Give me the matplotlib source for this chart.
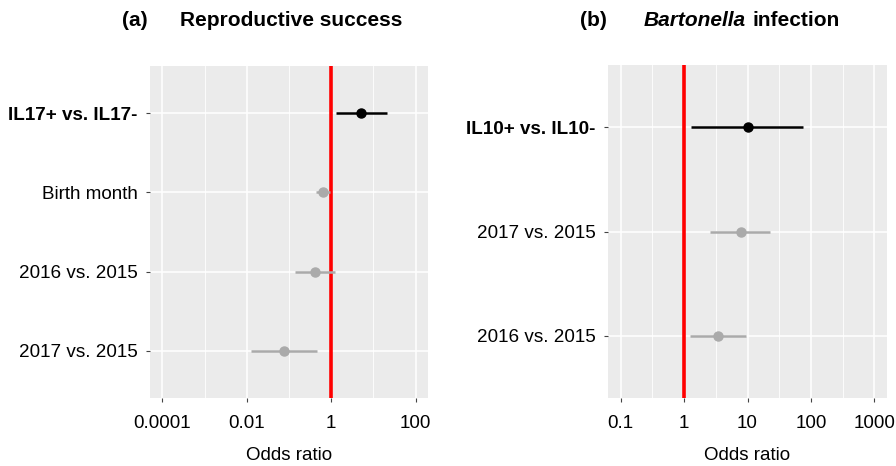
import matplotlib.pyplot as plt
from matplotlib.ticker import FixedLocator, NullFormatter

plt.rcParams['font.family'] = ['Liberation Sans', 'DejaVu Sans']

# -----------------------------
# Data
# -----------------------------
# (a) Reproductive success, top to bottom
a_labels = ["IL17+ vs. IL17-", "Birth month", "2016 vs. 2015", "2017 vs. 2015"]
a_or = [5.1, 0.64, 0.42, 0.076]
a_low = [1.3, 0.44, 0.14, 0.0126]
a_high = [21, 0.95, 1.24, 0.47]
a_bold = [True, False, False, False]
a_ticks = [0.0001, 0.01, 1, 100]
a_ticklabels = ["0.0001", "0.01", "1", "100"]
a_minor = [0.001, 0.1, 10]

# (b) Bartonella infection, top to bottom
b_labels = ["IL10+ vs. IL10-", "2017 vs. 2015", "2016 vs. 2015"]
b_or = [10, 7.8, 3.4]
b_low = [1.27, 2.6, 1.23]
b_high = [75, 23, 9.6]
b_bold = [True, False, False]
b_ticks = [0.1, 1, 10, 100, 1000]
b_ticklabels = ["0.1", "1", "10", "100", "1000"]
b_minor = [10 ** (k + 0.5) for k in range(-2, 4)]

W, H = 896, 466
fig = plt.figure(figsize=(W / 100, H / 100), dpi=100)


def panel(rect, labels, ors, lows, highs, bold, ticks, ticklabels, minor, xlim):
    ax = fig.add_axes(rect)
    ax.set_facecolor("#EBEBEB")
    ax.set_xscale("log")
    n = len(labels)
    ypos = list(range(n, 0, -1))
    for y, o, lo, hi, b in zip(ypos, ors, lows, highs, bold):
        col = "black" if b else "#AAAAAA"
        ax.plot([lo, hi], [y, y], color=col, lw=1.8, solid_capstyle="butt", zorder=3)
        ax.plot(o, y, "o", color=col, ms=6.5, zorder=4)
    ax.axvline(1, color="red", lw=2.6, zorder=2)
    ax.set_xlim(*xlim)
    ax.set_ylim(0.4, n + 0.6)
    ax.xaxis.set_major_locator(FixedLocator(ticks))
    ax.xaxis.set_minor_locator(FixedLocator(minor))
    ax.xaxis.set_minor_formatter(NullFormatter())
    ax.set_xticklabels(ticklabels, fontsize=13.5)
    ax.set_yticks(ypos)
    ax.set_yticklabels(labels, fontsize=13.6)
    for t, b in zip(ax.get_yticklabels(), bold):
        if b:
            t.set_fontweight("bold")
    ax.grid(which="major", color="white", lw=1.1, zorder=0)
    ax.grid(which="minor", axis="x", color="white", lw=0.6, zorder=0)
    ax.set_axisbelow(True)
    ax.tick_params(axis="y", which="major", length=3, width=0.8, color="#444444", pad=6)
    ax.tick_params(axis="x", which="major", length=3, width=0.8, color="#444444", pad=9)
    ax.tick_params(which="minor", length=0)
    for s in ax.spines.values():
        s.set_visible(False)
    ax.set_xlabel("Odds ratio", fontsize=13.5, labelpad=11)
    return ax


panel([150 / W, 1 - 398 / H, 278 / W, 332 / H], a_labels, a_or, a_low, a_high,
      a_bold, a_ticks, a_ticklabels, a_minor, (10 ** -4.29, 10 ** 2.29))
panel([608 / W, 1 - 398 / H, 279 / W, 333 / H], b_labels, b_or, b_low, b_high,
      b_bold, b_ticks, b_ticklabels, b_minor, (10 ** -1.2, 10 ** 3.2))

# titles
ty = 1 - 21 / H
fig.text(135 / W, ty, "(a)", ha="center", va="center", fontsize=15, fontweight="bold")
fig.text(291 / W, ty, "Reproductive success", ha="center", va="center",
         fontsize=15, fontweight="bold")
fig.text(593 / W, ty, "(b)", ha="center", va="center", fontsize=15, fontweight="bold")
fig.text(746 / W, ty, "Bartonella", ha="right", va="center", fontsize=15,
         fontweight="bold", fontstyle="italic")
fig.text(752 / W, ty, "infection", ha="left", va="center", fontsize=15, fontweight="bold")

fig.savefig("out.png", dpi=100)
